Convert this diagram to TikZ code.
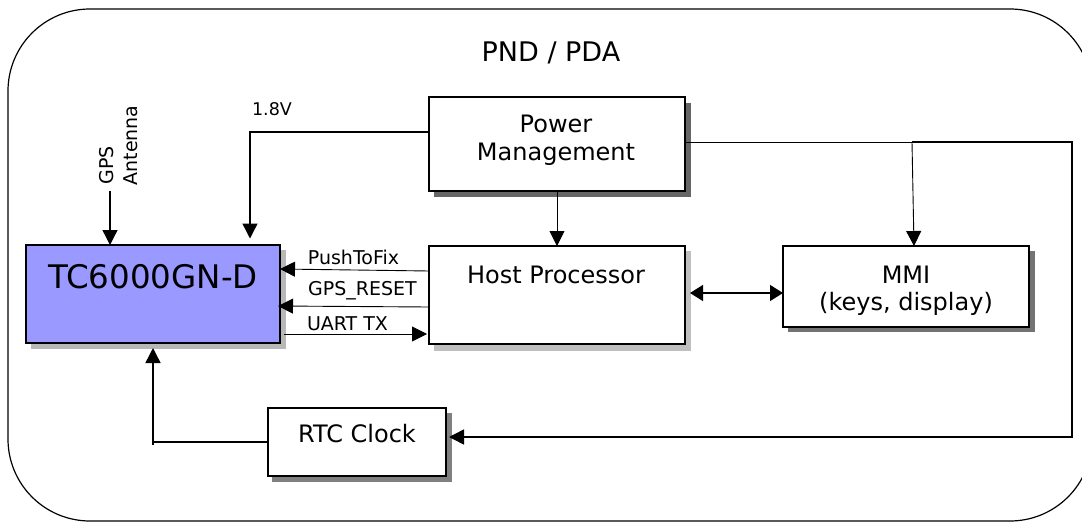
\documentclass[tikz,border=0pt]{standalone}
\usepackage{fontspec}
\setmainfont{DejaVu Sans}
\usetikzlibrary{arrows.meta}
\definecolor{chipblue}{RGB}{153,153,255}
\tikzset{
  x=1pt,y=-1pt,
  box/.style={draw=black,line width=1.3pt,fill=white,anchor=north west,inner sep=0pt,outer sep=0pt},
  shad/.style={fill=#1,draw=none},
  wire/.style={line width=#1,-{Triangle[length=15pt,width=15pt]}},
  wire/.default=1pt,
  lab/.style={font=\fontsize{19}{22}\selectfont,inner sep=0pt},
  big/.style={font=\fontsize{24}{29}\selectfont,align=center,inner sep=0pt},
}
\begin{document}
\begin{tikzpicture}
\clip (0,0) rectangle (1082,522);
\draw[line width=1.2pt,rounded corners=82pt] (8,9) rectangle (1092,521);
\node[big,font=\fontsize{27}{32}\selectfont] at (551,53) {PND / PDA};
% shadows
\fill[shad=black!28] (31,250) rectangle (286,349);
\fill[shad=black!60] (434,103) rectangle (691,197);
\fill[shad=black!25] (434,251) rectangle (691,351);
\fill[shad=black!55] (788,251) rectangle (1035,332);
\fill[shad=black!50] (272,413) rectangle (452,482);
% boxes
\node[box,fill=chipblue,minimum width=254pt,minimum height=98pt] (tc) at (26,245) {};
\node[box,minimum width=256pt,minimum height=94pt] (pm) at (429,97) {};
\node[box,minimum width=256pt,minimum height=98pt] (hp) at (429,246) {};
\node[box,minimum width=246pt,minimum height=81pt] (mmi) at (783,246) {};
\node[box,minimum width=178pt,minimum height=68pt] (rtc) at (268,408) {};
\node[big] at (153,277) {\fontsize{32.5}{36}\selectfont TC6000GN-D};
\node[big] at (556,124) {Power};
\node[big] at (556,154) {Management};
\node[big] at (556,275) {Host Processor};
\node[big] at (906,275) {MMI};
\node[big] at (906,304) {(keys, display)};
\node[big] at (357,434) {RTC Clock};
\node[lab,rotate=90] at (107,165.5) {GPS};
\node[lab,rotate=90] at (131,145.5) {Antenna};
\node[lab,font=\fontsize{17.5}{20}\selectfont] at (272,109) {1.8V};
\node[lab] at (353.5,257) {PushToFix};
\node[lab] at (362.5,291) {GPS\_RESET};
\node[lab] at (347.5,324) {UART TX};
% connectors
\coordinate (antTop) at (110,190.5);
\coordinate (corner18) at (250,132);
\coordinate (v18) at (250,238.5);
\coordinate (rtcCorner) at (153,442);
\coordinate (rtcLow) at (153,444.5);
\draw[wire=1.3pt] (antTop) -- (110,245);
\draw[wire=1.4pt] (429,132) -- (corner18) -- (v18);
\draw[wire=0.9pt] (pm.south) -- (hp.north);
\draw[wire=0.9pt] (429,271) -- (280,269);
\draw[wire=0.9pt] (429,307) -- (278,306);
\draw[wire=0.9pt] (284,334) -- (427,334);
\draw[line width=1.4pt,{Triangle[length=13pt,width=16pt]}-{Triangle[length=13pt,width=16pt]}] (690,293) -- (783,293);
\draw[line width=0.7pt] (686,142) -- (912,142);
\draw[wire=0.9pt] (912,142) -- (914,246);
\draw[wire=1.5pt] (912,142) -- (1072,142) -- (1072,437) -- (449,437);
\draw[line width=1.4pt] (rtc.west |- rtcCorner) -- (rtcCorner);
\draw[wire=1.4pt] (rtcLow) -- (153,348);
\end{tikzpicture}
\end{document}
